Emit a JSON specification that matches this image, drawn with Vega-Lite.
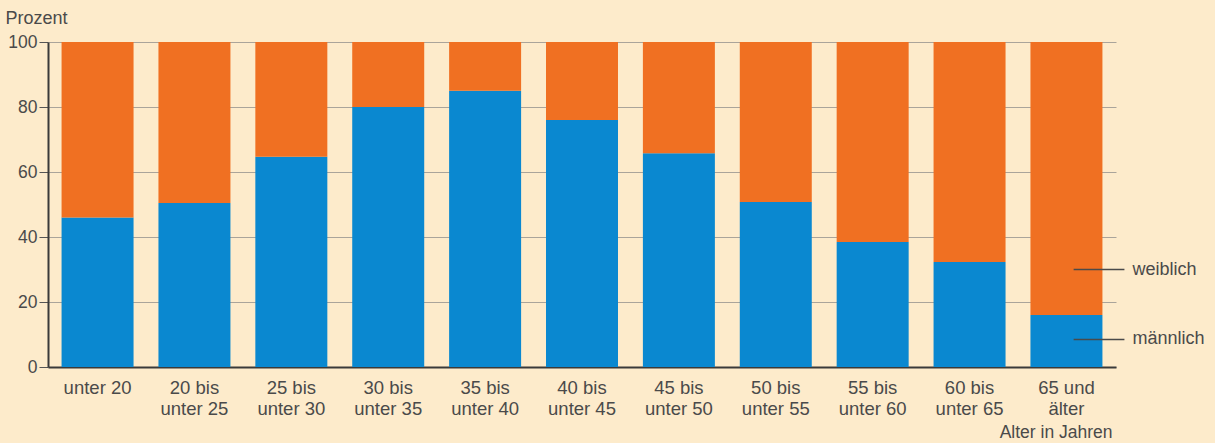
{
  "$schema": "https://vega.github.io/schema/vega-lite/v6.json",
  "width": 1068,
  "height": 325,
  "autosize": {"type": "none"},
  "padding": {"left": 48, "top": 42, "right": 99, "bottom": 76},
  "background": "#fdebcb",
  "config": {
    "view": {"stroke": null},
    "font": "Liberation Sans",
    "axis": {
      "labelFont": "Liberation Sans",
      "titleFont": "Liberation Sans",
      "labelColor": "#4a4a4a",
      "titleColor": "#4a4a4a",
      "labelFontSize": 17.5,
      "titleFontSize": 18,
      "titleFontWeight": "normal",
      "domainColor": "#3a3a3a",
      "domainWidth": 2
    }
  },
  "datasets": {
    "shares": [
      {"age": "unter 20", "gender": "männlich", "order": 1, "value": 46},
      {"age": "unter 20", "gender": "weiblich", "order": 2, "value": 54},
      {"age": "20 bis unter 25", "gender": "männlich", "order": 1, "value": 50.5},
      {"age": "20 bis unter 25", "gender": "weiblich", "order": 2, "value": 49.5},
      {"age": "25 bis unter 30", "gender": "männlich", "order": 1, "value": 64.7},
      {"age": "25 bis unter 30", "gender": "weiblich", "order": 2, "value": 35.3},
      {"age": "30 bis unter 35", "gender": "männlich", "order": 1, "value": 80},
      {"age": "30 bis unter 35", "gender": "weiblich", "order": 2, "value": 20},
      {"age": "35 bis unter 40", "gender": "männlich", "order": 1, "value": 85},
      {"age": "35 bis unter 40", "gender": "weiblich", "order": 2, "value": 15},
      {"age": "40 bis unter 45", "gender": "männlich", "order": 1, "value": 76},
      {"age": "40 bis unter 45", "gender": "weiblich", "order": 2, "value": 24},
      {"age": "45 bis unter 50", "gender": "männlich", "order": 1, "value": 65.8},
      {"age": "45 bis unter 50", "gender": "weiblich", "order": 2, "value": 34.2},
      {"age": "50 bis unter 55", "gender": "männlich", "order": 1, "value": 50.8},
      {"age": "50 bis unter 55", "gender": "weiblich", "order": 2, "value": 49.2},
      {"age": "55 bis unter 60", "gender": "männlich", "order": 1, "value": 38.5},
      {"age": "55 bis unter 60", "gender": "weiblich", "order": 2, "value": 61.5},
      {"age": "60 bis unter 65", "gender": "männlich", "order": 1, "value": 32.3},
      {"age": "60 bis unter 65", "gender": "weiblich", "order": 2, "value": 67.7},
      {"age": "65 und älter", "gender": "männlich", "order": 1, "value": 16},
      {"age": "65 und älter", "gender": "weiblich", "order": 2, "value": 84}
    ],
    "labels": [
      {"age": "65 und älter", "gender": "weiblich", "y": 30},
      {"age": "65 und älter", "gender": "männlich", "y": 8.5}
    ]
  },
  "layer": [
    {
      "data": {"name": "shares"},
      "mark": {"type": "bar"},
      "encoding": {
        "x": {
          "field": "age",
          "type": "nominal",
          "sort": null,
          "scale": {
            "domain": ["unter 20", "20 bis unter 25", "25 bis unter 30", "30 bis unter 35", "35 bis unter 40", "40 bis unter 45", "45 bis unter 50", "50 bis unter 55", "55 bis unter 60", "60 bis unter 65", "65 und älter"],
            "paddingInner": 0.257,
            "paddingOuter": 0.14
          },
          "axis": {
            "title": "Alter in Jahren",
            "titleAlign": "right",
            "titleBaseline": "alphabetic",
            "titleX": 1064,
            "titleY": 70,
            "titleFontSize": 17.5,
            "ticks": false,
            "labelAngle": 0,
            "labelFontSize": 18.5,
            "labelPadding": 11,
            "labelBaseline": "top",
            "labelLineHeight": 21,
            "labelExpr": "datum.label == 'unter 20' ? datum.label : [substring(datum.label, 0, 6), substring(datum.label, 7)]"
          }
        },
        "y": {
          "field": "value",
          "type": "quantitative",
          "stack": "zero",
          "scale": {"domain": [0, 100], "nice": false},
          "axis": {
            "title": "Prozent",
            "titleAngle": 0,
            "titleAlign": "left",
            "titleBaseline": "alphabetic",
            "titleX": -43,
            "titleY": -19,
            "values": [0, 20, 40, 60, 80, 100],
            "tickSize": 9,
            "tickColor": "#555555",
            "labelPadding": 2,
            "grid": true,
            "gridColor": "#aaa49a",
            "gridWidth": 1
          }
        },
        "color": {
          "field": "gender",
          "type": "nominal",
          "scale": {"domain": ["männlich", "weiblich"], "range": ["#0a88d0", "#f07022"]},
          "legend": null
        },
        "order": {"field": "order", "type": "quantitative"}
      }
    },
    {
      "data": {"name": "labels"},
      "mark": {"type": "rule", "color": "#4a4a4a", "strokeWidth": 1.5, "x2Offset": 22},
      "encoding": {
        "x": {"field": "age", "type": "nominal", "bandPosition": 0.6},
        "x2": {"field": "age", "bandPosition": 1},
        "y": {"field": "y", "type": "quantitative"}
      }
    },
    {
      "data": {"name": "labels"},
      "mark": {"type": "text", "align": "left", "baseline": "middle", "dx": 30, "fontSize": 18, "color": "#4a4a4a", "font": "Liberation Sans"},
      "encoding": {
        "x": {"field": "age", "type": "nominal", "bandPosition": 1},
        "y": {"field": "y", "type": "quantitative"},
        "text": {"field": "gender"}
      }
    }
  ]
}
